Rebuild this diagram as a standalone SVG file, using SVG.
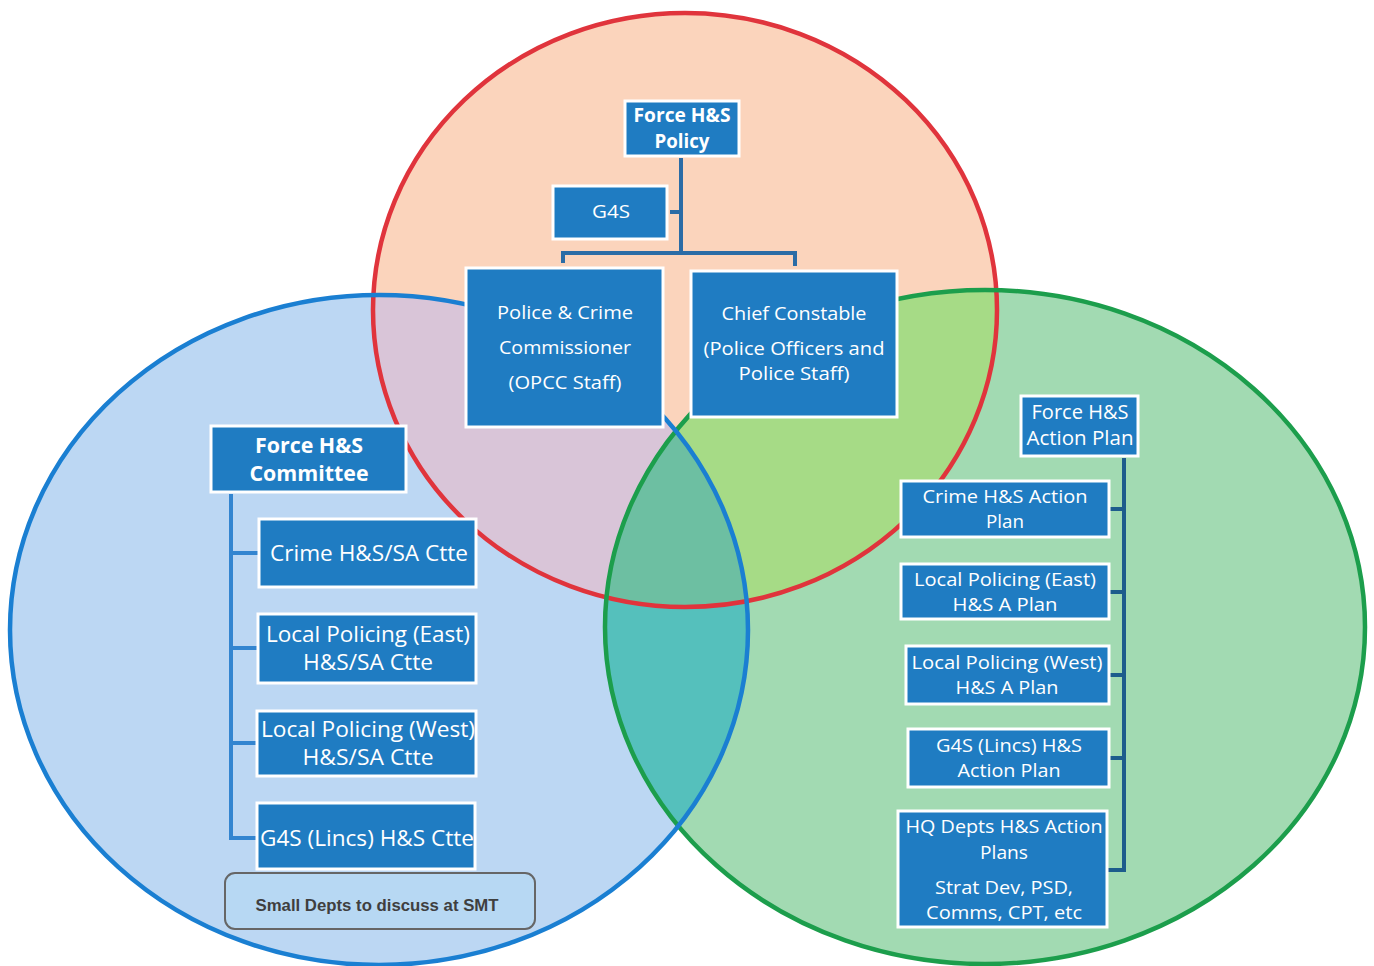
<svg xmlns="http://www.w3.org/2000/svg" width="1374" height="966" viewBox="0 0 1374 966">
<style>
.box{fill:#1f7cc2;stroke:#ffffff;stroke-width:3}
.t{font-family:"Open Sans","Liberation Sans",sans-serif;fill:#ffffff;text-anchor:middle}
.b{font-weight:bold}
.conn{fill:none;stroke-width:4;stroke-linejoin:miter}
</style>
<defs>
<clipPath id="cB"><ellipse cx="379" cy="630" rx="369" ry="335"/></clipPath>
<clipPath id="cG"><ellipse cx="985" cy="627" rx="380" ry="337"/></clipPath>
<clipPath id="cR"><ellipse cx="685" cy="310" rx="312" ry="297"/></clipPath>
</defs>
<rect width="1374" height="966" fill="#ffffff"/>
<g id="venn-fills">
<ellipse cx="379" cy="630" rx="369" ry="335" fill="#bcd7f3"/>
<ellipse cx="985" cy="627" rx="380" ry="337" fill="#a2dab2"/>
<ellipse cx="685" cy="310" rx="312" ry="297" fill="#fbd4bc"/>
<ellipse cx="685" cy="310" rx="312" ry="297" fill="#d9c5d8" clip-path="url(#cB)"/>
<ellipse cx="685" cy="310" rx="312" ry="297" fill="#a6db86" clip-path="url(#cG)"/>
<g clip-path="url(#cG)"><ellipse cx="379" cy="630" rx="369" ry="335" fill="#55c0bc"/></g>
<g clip-path="url(#cG)"><ellipse cx="685" cy="310" rx="312" ry="297" fill="#6dbfa2" clip-path="url(#cB)"/></g>
</g>
<g id="venn-strokes" fill="none" stroke-width="4.5">
<ellipse cx="685" cy="310" rx="312" ry="297" stroke="#e0343c"/>
<ellipse cx="985" cy="627" rx="380" ry="337" stroke="#1c9e4c"/>
<ellipse cx="379" cy="630" rx="369" ry="335" stroke="#1a7fd2"/>
</g>
<g id="connectors">
<path class="conn" stroke="#2b6ca6" d="M681,158 V253 M563,263 V253 H795 V266 M670,212 H681"/>
<path class="conn" stroke="#3385d0" d="M231,494 V838 H257 M231,553 H258 M231,648 H257 M231,743 H257"/>
<path class="conn" stroke="#1d5c8c" d="M1124,458 V870 H1108 M1110,509 H1124 M1110,592 H1124 M1110,675 H1124 M1110,758 H1124"/>
</g>
<g id="policy"><rect class="box" x="625" y="101" width="114" height="55"/>
<text class="t b" x="682" y="122" font-size="19" textLength="97" lengthAdjust="spacingAndGlyphs">Force H&amp;S</text>
<text class="t b" x="682" y="148" font-size="19" textLength="55" lengthAdjust="spacingAndGlyphs">Policy</text></g>
<g id="g4s"><rect class="box" x="553" y="186" width="114" height="53"/>
<text class="t" x="611" y="218" font-size="18" textLength="38" lengthAdjust="spacingAndGlyphs">G4S</text></g>
<g id="pcc"><rect class="box" x="466" y="268" width="197" height="159"/>
<text class="t" x="565" y="319" font-size="19" textLength="136" lengthAdjust="spacingAndGlyphs">Police &amp; Crime</text>
<text class="t" x="565" y="354" font-size="19" textLength="132" lengthAdjust="spacingAndGlyphs">Commissioner</text>
<text class="t" x="565" y="389" font-size="19" textLength="113" lengthAdjust="spacingAndGlyphs">(OPCC Staff)</text></g>
<g id="cc"><rect class="box" x="691" y="271" width="206" height="146"/>
<text class="t" x="794" y="320" font-size="19" textLength="145" lengthAdjust="spacingAndGlyphs">Chief Constable</text>
<text class="t" x="794" y="355" font-size="19" textLength="181" lengthAdjust="spacingAndGlyphs">(Police Officers and</text>
<text class="t" x="794" y="380" font-size="19" textLength="111" lengthAdjust="spacingAndGlyphs">Police Staff)</text></g>
<g id="committee"><rect class="box" x="211" y="426" width="195" height="66"/>
<text class="t b" x="309" y="453" font-size="22" textLength="108" lengthAdjust="spacingAndGlyphs">Force H&amp;S</text>
<text class="t b" x="309" y="481" font-size="22" textLength="119" lengthAdjust="spacingAndGlyphs">Committee</text></g>
<g id="crime-ctte"><rect class="box" x="259" y="519" width="217" height="68"/>
<text class="t" x="369" y="561" font-size="22" textLength="198" lengthAdjust="spacingAndGlyphs">Crime H&amp;S/SA Ctte</text></g>
<g id="east-ctte"><rect class="box" x="258" y="614" width="218" height="69"/>
<text class="t" x="368" y="642" font-size="22" textLength="204" lengthAdjust="spacingAndGlyphs">Local Policing (East)</text>
<text class="t" x="368" y="670" font-size="22" textLength="130" lengthAdjust="spacingAndGlyphs">H&amp;S/SA Ctte</text></g>
<g id="west-ctte"><rect class="box" x="257" y="711" width="219" height="65"/>
<text class="t" x="368" y="737" font-size="22" textLength="214" lengthAdjust="spacingAndGlyphs">Local Policing (West)</text>
<text class="t" x="368" y="765" font-size="22" textLength="131" lengthAdjust="spacingAndGlyphs">H&amp;S/SA Ctte</text></g>
<g id="g4s-ctte"><rect class="box" x="257" y="803" width="218" height="66"/>
<text class="t" x="367" y="846" font-size="22" textLength="214" lengthAdjust="spacingAndGlyphs">G4S (Lincs) H&amp;S Ctte</text></g>
<g id="small-depts"><rect x="225" y="873" width="310" height="56" rx="10" fill="#b7d8f3" stroke="#666666" stroke-width="2"/>
<text x="377" y="911" font-size="17" font-weight="bold" font-family="Liberation Sans, Arial, sans-serif" fill="#3f3f3f" text-anchor="middle" textLength="243" lengthAdjust="spacingAndGlyphs">Small Depts to discuss at SMT</text></g>
<g id="action-plan"><rect class="box" x="1021" y="396" width="117" height="60"/>
<text class="t" x="1080" y="419" font-size="20" textLength="97" lengthAdjust="spacingAndGlyphs">Force H&amp;S</text>
<text class="t" x="1080" y="445" font-size="20" textLength="107" lengthAdjust="spacingAndGlyphs">Action Plan</text></g>
<g id="crime-ap"><rect class="box" x="901" y="481" width="208" height="56"/>
<text class="t" x="1005" y="503" font-size="19" textLength="165" lengthAdjust="spacingAndGlyphs">Crime H&amp;S Action</text>
<text class="t" x="1005" y="528" font-size="19" textLength="38" lengthAdjust="spacingAndGlyphs">Plan</text></g>
<g id="east-ap"><rect class="box" x="901" y="564" width="208" height="55"/>
<text class="t" x="1005" y="586" font-size="19" textLength="182" lengthAdjust="spacingAndGlyphs">Local Policing (East)</text>
<text class="t" x="1005" y="611" font-size="19" textLength="105" lengthAdjust="spacingAndGlyphs">H&amp;S A Plan</text></g>
<g id="west-ap"><rect class="box" x="906" y="646" width="203" height="58"/>
<text class="t" x="1007" y="669" font-size="19" textLength="191" lengthAdjust="spacingAndGlyphs">Local Policing (West)</text>
<text class="t" x="1007" y="694" font-size="19" textLength="103" lengthAdjust="spacingAndGlyphs">H&amp;S A Plan</text></g>
<g id="g4s-ap"><rect class="box" x="908" y="729" width="201" height="58"/>
<text class="t" x="1009" y="752" font-size="19" textLength="146" lengthAdjust="spacingAndGlyphs">G4S (Lincs) H&amp;S</text>
<text class="t" x="1009" y="777" font-size="19" textLength="103" lengthAdjust="spacingAndGlyphs">Action Plan</text></g>
<g id="hq-ap"><rect class="box" x="898" y="811" width="209" height="116"/>
<text class="t" x="1004" y="833" font-size="19" textLength="197" lengthAdjust="spacingAndGlyphs">HQ Depts H&amp;S Action</text>
<text class="t" x="1004" y="859" font-size="19" textLength="48" lengthAdjust="spacingAndGlyphs">Plans</text>
<text class="t" x="1004" y="894" font-size="19" textLength="138" lengthAdjust="spacingAndGlyphs">Strat Dev, PSD,</text>
<text class="t" x="1004" y="919" font-size="19" textLength="156" lengthAdjust="spacingAndGlyphs">Comms, CPT, etc</text></g>
</svg>
